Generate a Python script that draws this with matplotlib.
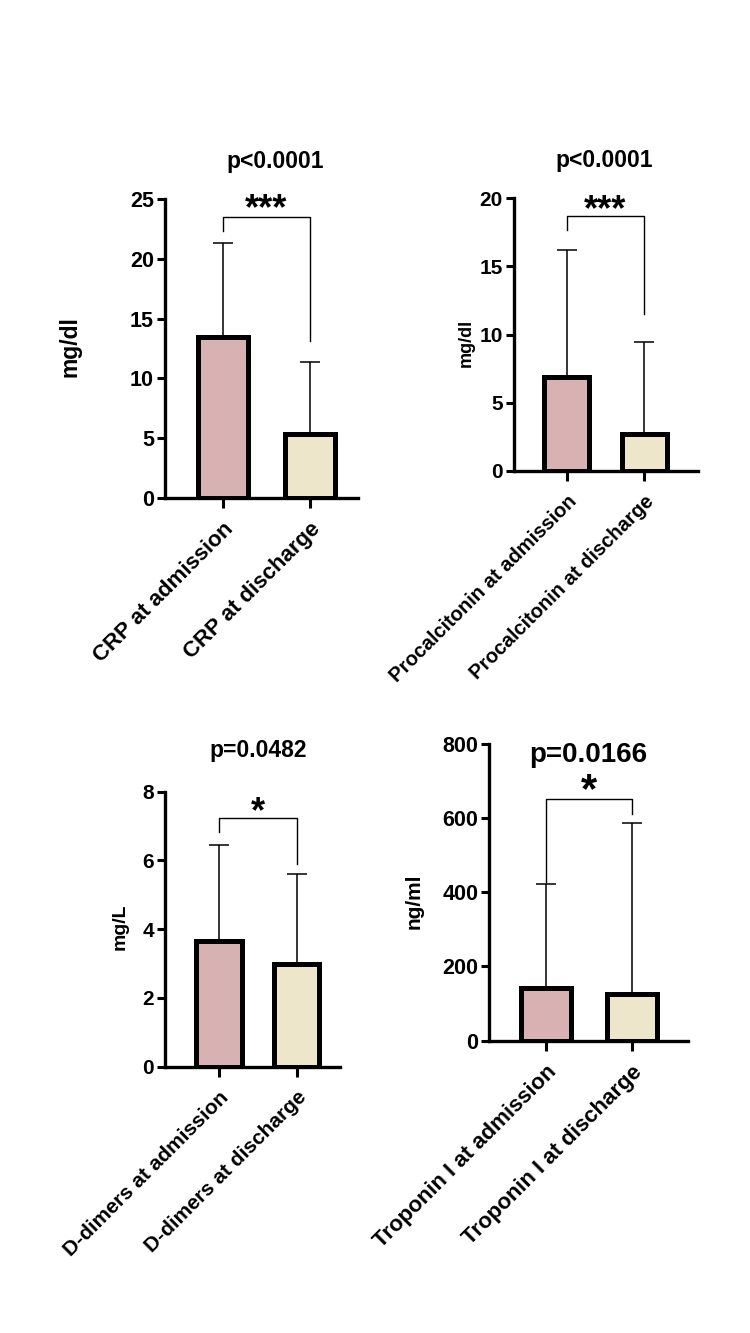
import matplotlib.pyplot as plt
import numpy as np

plt.rcParams['font.family'] = ['Liberation Sans', 'DejaVu Sans']
plt.rcParams['font.weight'] = 'bold'

# data (mean, upper SD)
crp_labels = ['CRP at admission', 'CRP at discharge']
crp_mean = [13.5, 5.35]
crp_sd = [7.8, 6.05]

pct_labels = ['Procalcitonin at admission', 'Procalcitonin at discharge']
pct_mean = [6.87, 2.69]
pct_sd = [9.33, 6.75]

dd_labels = ['D-dimers at admission', 'D-dimers at discharge']
dd_mean = [3.66, 3.0]
dd_sd = [2.79, 2.6]

trop_labels = ['Troponin I at admission', 'Troponin I at discharge']
trop_mean = [141, 125]
trop_sd = [281, 463]

colors = ['#D8B2B2', '#EDE6CB']


def Panel(rect, means, sds, labels, ymax, yticks, ylabel, xlim, lab_xy, lab_size,
          ptext, p_xy, p_size, stars, star_xy, star_size, bracket, tick_size, ytick_size):
    ax = fig.add_axes(rect)
    x = np.arange(len(means))
    ax.errorbar(x, means, yerr=[[0, 0], sds], fmt='none', ecolor='black',
                elinewidth=1.1, capsize=7, capthick=1.1, zorder=1)
    ax.bar(x, means, width=0.58, color=colors, edgecolor='black', linewidth=3.6, zorder=2)
    ax.set_xlim(xlim)
    ax.set_ylim(0, ymax)
    ax.set_yticks(yticks)
    ax.set_xticks(x)
    ax.set_xticklabels(labels, rotation=45, ha='right', rotation_mode='anchor',
                       fontsize=tick_size, fontweight='bold')
    ax.tick_params(axis='y', labelsize=ytick_size, width=2.2, length=6, pad=2)
    ax.tick_params(axis='x', width=2.2, length=7, pad=8)
    for s in ['top', 'right']:
        ax.spines[s].set_visible(False)
    for s in ['left', 'bottom']:
        ax.spines[s].set_linewidth(2.4)
    ax.set_ylabel(ylabel, fontsize=lab_size, fontweight='bold')
    ax.yaxis.set_label_coords(*lab_xy)
    # significance bracket
    top, l_end, r_end = bracket
    ax.plot([0, 0, 1, 1], [l_end, top, top, r_end], color='black', lw=1.0,
            clip_on=False, zorder=3)
    ax.text(star_xy[0], star_xy[1], stars, ha='center', va='baseline',
            fontsize=star_size, fontweight='bold', clip_on=False)
    ax.text(p_xy[0], p_xy[1], ptext, ha='center', va='baseline',
            fontsize=p_size, fontweight='bold', clip_on=False)
    return ax


fig = plt.figure(figsize=(7.5, 13.33), dpi=100)

Panel([0.22, 0.6264, 0.2573, 0.2243], crp_mean, crp_sd, crp_labels, 25, [0, 5, 10, 15, 20, 25],
      'mg/dl', (-0.667, 1.552), (-0.435, 0.505), 16.5,
      'p<0.0001', (0.6, 27.6), 16.5, '***', (0.5, 23.3), 26, (23.5, 22.3, 13.1), 16, 15.5)

Panel([0.6853, 0.6467, 0.2453, 0.2046], pct_mean, pct_sd, pct_labels, 20, [0, 5, 10, 15, 20],
      'mg/dl', (-0.679, 1.692), (-0.212, 0.47), 13,
      'p<0.0001', (0.49, 22.3), 16.5, '***', (0.5, 18.4), 26, (18.7, 17.7, 11.5), 14.5, 15)

Panel([0.22, 0.1998, 0.2333, 0.2063], dd_mean, dd_sd, dd_labels, 8, [0, 2, 4, 6, 8],
      'mg/L', (-0.695, 1.557), (-0.21, 0.508), 14,
      'p=0.0482', (0.5, 9.0), 16.5, '*', (0.5, 7.11), 26, (7.22, 6.83, 5.9), 15, 15)

Panel([0.6524, 0.2193, 0.2649, 0.2226], trop_mean, trop_sd, trop_labels, 800, [0, 200, 400, 600, 800],
      'ng/ml', (-0.656, 1.655), (-0.33, 0.47), 15,
      'p=0.0166', (0.5, 752), 20, '*', (0.5, 644), 30, (651, 429, 611), 16, 15.5)

plt.savefig('out.png', dpi=100)
